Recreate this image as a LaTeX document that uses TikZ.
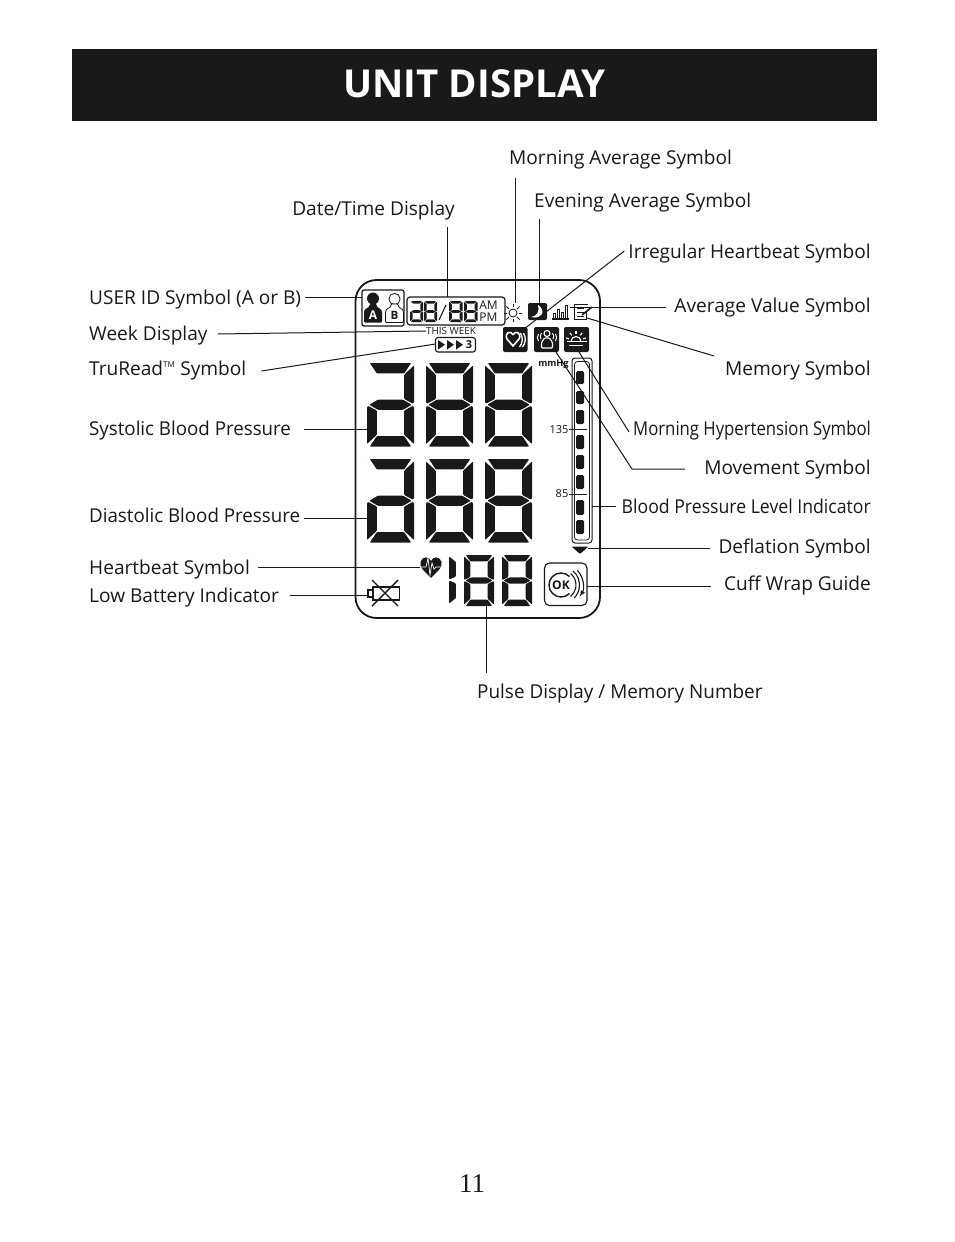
\documentclass[tikz,border=0pt]{standalone}
\usepackage{fontspec}
\setmainfont{Open Sans}
\newfontfamily\pagefont{Liberation Serif}
\definecolor{ink}{HTML}{1A1818}
\tikzset{
  lead/.style={line width=1pt,ink},
  lbl/.style={font=\fontsize{19.1}{22}\selectfont,text=ink,inner sep=0pt,text height=13pt,text depth=5pt},
  lcdseg/.style={fill=ink,rounded corners=.8pt},
  lcdtext/.style={font=\fontsize{#1}{#1}\selectfont,text=ink,inner sep=0pt},
  iconbox/.style={fill=ink,rounded corners=2pt},
  thinline/.style={line width=.8pt,ink},
  whiteline/.style={line width=1.3pt,white},
}
\def\sega{(.06,0)--(.94,0)--(.79,.125)--(.21,.125)--cycle}
\def\segb{(1,.03)--(1,.47)--(.975,.487)--(.79,.43)--(.79,.14)--cycle}
\def\segc{(1,.97)--(1,.53)--(.975,.513)--(.79,.57)--(.79,.86)--cycle}
\def\segd{(.06,1)--(.94,1)--(.79,.875)--(.21,.875)--cycle}
\def\sege{(0,.97)--(0,.53)--(.025,.513)--(.21,.57)--(.21,.86)--cycle}
\def\segf{(0,.03)--(0,.47)--(.025,.487)--(.21,.43)--(.21,.14)--cycle}
\def\segg{(.23,.44)--(.77,.44)--(.95,.5)--(.77,.56)--(.23,.56)--(.05,.5)--cycle}
\newcommand{\lcdfill}[1]{\fill[lcdseg] #1;}
\newcommand{\lcddigit}[5]{%
  \begin{scope}[shift={(#1,#2)},x=#3pt,y=-#4pt]
    \foreach \s in {#5} {\expandafter\lcdfill\csname seg\s\endcsname}
  \end{scope}}
\def\bellbody{(-9,322.5)--(-9,313) .. controls (-9,308) and (-3.5,308.5) .. (-3.5,304)--(3.5,304) .. controls (3.5,308.5) and (9,308) .. (9,313)--(9,322.5)--cycle}
\begin{document}
\begin{tikzpicture}[x=1pt,y=-1pt]
\useasboundingbox[fill=white] (0,0) rectangle (954,1242);
\fill[ink] (72,49) rectangle (877,121);
\node[font=\bfseries\fontsize{38.5}{40}\selectfont,text=white,inner sep=0pt] (title) at (474.5,84) {UNIT DISPLAY};
\node[font=\pagefont\fontsize{27}{30}\selectfont,text=ink,inner sep=0pt] (pagenum) at (472,1184) {11};
% display frame
\draw[line width=1.8pt,ink,rounded corners=21pt] (355.5,280) rectangle (600,618);
% user icons
\draw[line width=1.2pt,ink,rounded corners=2pt] (362,290) rectangle (404,326);
\fill[ink] (373,298.5) circle (6);
\fill[ink,xshift=373,rounded corners=1pt] \bellbody;
\node[font=\bfseries\fontsize{12}{12}\selectfont,text=white,inner sep=0pt] (usera) at (373,315) {A};
\draw[thinline] (394.5,299) circle (5.6);
\draw[thinline,fill=white,xshift=394.5,rounded corners=1pt] \bellbody;
\node[font=\bfseries\fontsize{11.5}{12}\selectfont,text=ink,inner sep=0pt] (userb) at (394.5,315) {B};
% date and time
\draw[line width=1.2pt,ink,rounded corners=3pt] (407,297) rectangle (505,325);
\lcddigit{410}{301}{13}{21}{a,b,g,e,c,d}
\lcddigit{424}{301}{13}{21}{a,b,c,d,e,f,g}
\draw[line width=1.1pt,ink] (439,320)--(446,305);
\lcddigit{449}{301}{13.5}{21}{a,b,c,d,e,f,g}
\lcddigit{464}{301}{13.5}{21}{a,b,c,d,e,f,g}
\node[lcdtext=12] (amtext) at (488.5,305.5) {AM};
\node[lcdtext=12] (pmtext) at (488.5,317) {PM};
% sun
\draw[thinline] (513,313) circle (4);
\foreach \a in {0,45,...,315} {\draw[thinline] (513,313)++(\a:5.6)--++(\a:3.6);}
% moon
\fill[iconbox] (528,303) rectangle (547,320);
\fill[white] (538,305) .. controls (546,310) and (543,320) .. (531,317) .. controls (537,316.5) and (540,311) .. (538,305);
% average bars
\foreach \bx/\by in {553/313,557/309,561/312,565/305} {\draw[line width=.9pt,ink] (\bx,\by) rectangle (\bx+2,318);}
\draw[line width=1.2pt,ink] (552,319)--(569,319);
% memo
\draw[line width=1pt,ink] (586.5,311)--(586.5,319.5)--(574.5,319.5)--(574.5,304)--(588,304);
\foreach \ly in {308,312,316} {\draw[line width=.9pt,ink] (576.5,\ly)--(584,\ly);}
\draw[line width=1.6pt,ink] (582,315)--(592,307);
% THIS WEEK and TruRead
\node[lcdtext=9.9] (thisweek) at (451,331) {THIS WEEK};
\draw[line width=1.1pt,ink,rounded corners=2.5pt] (435.5,337.5) rectangle (475.5,352);
\foreach \tx in {438,447,456} {\fill[ink] (\tx,340)--(\tx+7,344.7)--(\tx,349.5)--cycle;}
\node[lcdtext=11] (weeknum) at (469,345) {\bfseries 3};
% heart box
\fill[iconbox] (503,327) rectangle (527.5,352);
\draw[line width=1.6pt,white] (513,346)--(507,339) .. controls (504,333) and (510.5,330) .. (513,334.5) .. controls (515.5,330) and (522,333) .. (519,339)--cycle;
\draw[whiteline] (520.5,333) .. controls (523,337) and (523,343) .. (519.5,347);
\draw[whiteline] (523.5,333) .. controls (526,337) and (526,343) .. (522.5,347);
% movement box
\fill[iconbox] (534,327) rectangle (559,352);
\draw[line width=1.1pt,white] (547,333.5) circle (3);
\draw[line width=1.1pt,white,rounded corners=1pt] (541.5,348)--(541.5,342.5)--(544.5,338)--(549.5,338)--(552.5,342.5)--(552.5,348)--cycle;
\foreach \wx in {-1,1} {
  \draw[line width=1pt,white] (547+\wx*8.5,334) .. controls (547+\wx*10,336) and (547+\wx*10,339) .. (547+\wx*8.5,341);
  \draw[line width=1pt,white] (547+\wx*5.5,333) .. controls (547+\wx*7,335) and (547+\wx*7,337) .. (547+\wx*6,339);}
% morning hypertension box
\fill[iconbox] (564,327) rectangle (589,352);
\draw[line width=1.1pt,white] (571,341.5) arc (180:360:5);
\foreach \a in {20,55,90,125,160} {\draw[line width=1.1pt,white] (576,341.5)++(-\a:7.5)--++(-\a:3);}
\draw[line width=1.1pt,white] (566.5,341.5)--(587,341.5);
\draw[line width=1.1pt,white] (569,345.5)--(583,345.5);
% big digits
\lcddigit{367}{363}{47}{83.5}{a,b,g,e,c,d}
\lcddigit{426}{363}{47}{83.5}{a,b,c,d,e,f,g}
\lcddigit{485}{363}{47}{83.5}{a,b,c,d,e,f,g}
\lcddigit{367}{459}{47}{83.5}{a,b,g,e,c,d}
\lcddigit{426}{459}{47}{83.5}{a,b,c,d,e,f,g}
\lcddigit{485}{459}{47}{83.5}{a,b,c,d,e,f,g}
% pulse digits
\lcddigit{449}{555}{33}{50}{e,f}
\lcddigit{464}{555}{30}{51}{a,b,c,d,e,f,g}
\lcddigit{502}{555}{30}{51}{a,b,c,d,e,f,g}
% level gauge
\node[lcdtext=9.2] (mmhg) at (553.5,364) {\bfseries mmHg};
\node[lcdtext=11] (onethree) at (559,430) {135};
\node[lcdtext=11] (eightyfive) at (562,494) {85};
\draw[line width=1pt,ink,rounded corners=3pt] (572,358) rectangle (592,543);
\draw[line width=.8pt,ink,rounded corners=3pt] (574.5,361.5) rectangle (589.5,540);
\foreach \gt/\gb in {371/384,391/404,410/424,435/449,455/469,475/489,500/515,520/534} {\fill[ink,rounded corners=1.5pt] (576,\gt) rectangle (584,\gb);}
\draw[line width=.8pt,ink] (569,429.5)--(587,429.5);
\draw[line width=.8pt,ink] (569,494.5)--(587,494.5);
\fill[ink,rounded corners=1pt] (571.5,546.5)--(588.5,546.5)--(580,554)--cycle;
% heart symbol
\fill[ink] (431,578) .. controls (424,570) and (419,568) .. (420.5,562) .. controls (422,556) and (429,556) .. (431,561) .. controls (433,556) and (440,556) .. (441.5,562) .. controls (443,568) and (438,570) .. (431,578)--cycle;
\draw[line width=.7pt,white] (420,567)--(426,567)--(428,558)--(430,575)--(432,563)--(434,569)--(436,567)--(443,567);
% battery
\draw[line width=1.4pt,ink] (373,587) rectangle (399.5,600);
\draw[line width=1.4pt,ink] (373,590)--(368,590)--(368,597)--(373,597);
\draw[line width=1.4pt,ink] (372,580)--(398,606);
\draw[line width=1.4pt,ink] (398,580)--(372,606);
% cuff wrap box
\draw[line width=1.1pt,ink,rounded corners=5pt] (544.5,563) rectangle (587,605.5);
\draw[line width=1.4pt,ink] (561,585)++(-45:12) arc (-45:-315:12);
\node[font=\bfseries\fontsize{12}{12}\selectfont,text=ink,inner sep=0pt] (oktext) at (561,585) {OK};
\draw[line width=1.1pt,ink] (561,585)++(-50:15) arc (-50:50:15);
\draw[line width=1.1pt,ink] (561,585)++(-50:18.5) arc (-50:45:18.5);
\draw[line width=1.1pt,ink,-latex] (561,585)++(-42:22) arc (-42:32:22);
% labels
\node[lbl,anchor=west] (lbluser) at (89,300) {USER ID Symbol (A or B)};
\node[lbl,anchor=west] (lblweek) at (89,336) {Week Display};
\node[lbl,anchor=west] (lbltru) at (89,371) {TruRead\textsuperscript{\fontsize{8}{8}\selectfont TM} Symbol};
\node[lbl,anchor=west] (lblsys) at (89,431) {\scalebox{.98}[1]{Systolic Blood Pressure}};
\node[lbl,anchor=west] (lbldia) at (89,518) {\scalebox{.98}[1]{Diastolic Blood Pressure}};
\node[lbl,anchor=west] (lblheart) at (89,570) {Heartbeat Symbol};
\node[lbl,anchor=west] (lblbatt) at (89,598) {Low Battery Indicator};
\node[lbl,anchor=west] (lblmorn) at (509,160) {Morning Average Symbol};
\node[lbl,anchor=west] (lbleve) at (534,203) {Evening Average Symbol};
\node[lbl,anchor=east] (lbldate) at (455,211) {Date/Time Display};
\node[lbl,anchor=east] (lblirr) at (871,254) {Irregular Heartbeat Symbol};
\node[lbl,anchor=east] (lblavg) at (871,308) {Average Value Symbol};
\node[lbl,anchor=east] (lblmem) at (871,371) {Memory Symbol};
\node[lbl,anchor=east] (lblhyp) at (871,431) {\scalebox{.875}[1]{Morning Hypertension Symbol}};
\node[lbl,anchor=east] (lblmove) at (871,470) {Movement Symbol};
\node[lbl,anchor=east] (lblbp) at (871,509) {\scalebox{.925}[1]{Blood Pressure Level Indicator}};
\node[lbl,anchor=east] (lbldefl) at (871,549) {Deflation Symbol};
\node[lbl,anchor=east] (lblcuff) at (871,586) {Cuff Wrap Guide};
\node[lbl,anchor=west] (lblpulse) at (477,694) {\scalebox{.99}[1]{Pulse Display / Memory Number}};
% connector ends
\coordinate (tuser) at (362,297.5);
\coordinate (tweek) at (426,331);
\coordinate (ttru) at (435.5,344);
\coordinate (tsys) at (367,429);
\coordinate (tdia) at (367,518);
\coordinate (theart) at (420,567);
\coordinate (tbatt) at (368,595);
\coordinate (tmorn) at (515,303);
\coordinate (teve) at (539,303);
\coordinate (tdate) at (447,297);
\coordinate (tirr) at (526,327.5);
\coordinate (tavg) at (570,307);
\coordinate (tmem) at (587,318);
\coordinate (thyp) at (579,352);
\coordinate (tmove) at (556,352);
\coordinate (tbp) at (592,506);
\coordinate (tdefl) at (588,548);
\coordinate (tcuff) at (587,586);
\coordinate (tpulse) at (486,606);
\coordinate (bendmove) at (632,469);
% connectors
\draw[lead] ([xshift=4,yshift=2.5]lbluser.east) -- (tuser);
\draw[lead] ([xshift=10,yshift=2]lblweek.east) -- (tweek);
\draw[lead] ([xshift=15]lbltru.east) -- (ttru);
\draw[lead] ([xshift=13,yshift=2]lblsys.east) -- (tsys);
\draw[lead] ([xshift=4]lbldia.east) -- (tdia);
\draw[lead] ([xshift=8,yshift=3]lblheart.east) -- (theart);
\draw[lead] ([xshift=11,yshift=3]lblbatt.east) -- (tbatt);
\draw[lead] ([xshift=6,yshift=-9]lblmorn.south west) -- (tmorn);
\draw[lead] ([xshift=5,yshift=-7]lbleve.south west) -- (teve);
\draw[lead] ([xshift=-8,yshift=-7]lbldate.south east) -- (tdate);
\draw[lead] ([xshift=-4,yshift=3]lblirr.west) -- (tirr);
\draw[lead] ([xshift=-8,yshift=1]lblavg.west) -- (tavg);
\draw[lead] ([xshift=-11,yshift=15]lblmem.west) -- (tmem);
\draw[lead] ([xshift=-4,yshift=-1]lblhyp.west) -- (thyp);
\draw[lead] ([xshift=-19,yshift=1]lblmove.west) -- (bendmove) -- (tmove);
\draw[lead] ([xshift=-5,yshift=3]lblbp.west) -- (tbp);
\draw[lead] ([xshift=-8,yshift=1]lbldefl.west) -- (tdefl);
\draw[lead] ([xshift=-13]lblcuff.west) -- (tcuff);
\draw[lead] ([xshift=9,yshift=12]lblpulse.north west) -- (tpulse);
\end{tikzpicture}
\end{document}
